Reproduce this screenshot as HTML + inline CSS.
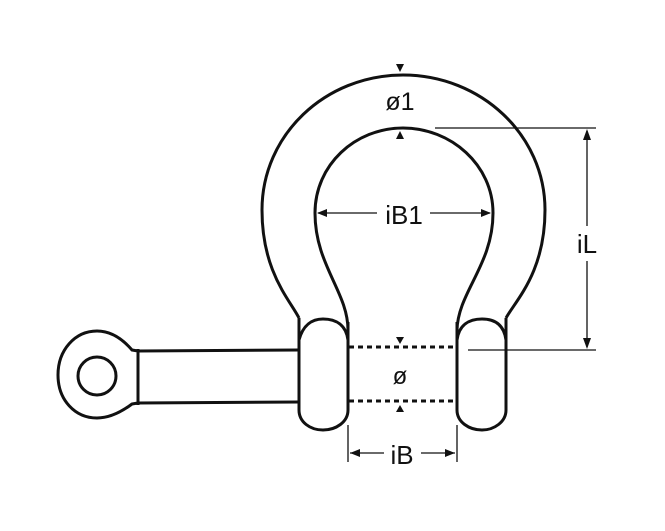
<!DOCTYPE html>
<html><head><meta charset="utf-8"><style>
html,body{margin:0;padding:0;background:#fff;}
svg{display:block;}
text{font-family:"Liberation Sans","DejaVu Sans",sans-serif;fill:#111;}
</style></head><body>
<svg width="665" height="531" viewBox="0 0 665 531" xmlns="http://www.w3.org/2000/svg">
<g fill="none" stroke="#111" stroke-width="3" stroke-linejoin="round">
<!-- outer bow -->
<path d="M299 318 C290 300 262 272 262 210 C262 135 325 75 403 75 C481 75 545 135 545 210 C545 272 516 300 506 318"/>
<!-- inner bow -->
<path d="M348 330 C348 292 315 265 315 213 C315 165 355 128 403 128 C451 128 493 165 493 213 C493 265 458 292 457 330"/>
<!-- left collar -->
<path d="M299 340 C303 325 312 319 323 319 C336 319 346 325 348 340 L348 410 C348 422 336 430 323 430 C310 430 299 422 299 410 Z" fill="#fff"/>
<path d="M299 318 L299 340 M348 322 L348 340"/>
<!-- right collar -->
<path d="M457 340 C459 325 469 319 482 319 C495 319 504 325 506 340 L506 410 C506 422 494 430 482 430 C469 430 457 422 457 410 Z" fill="#fff"/>
<path d="M506 318 L506 340 M457 322 L457 340"/>
<!-- pin -->
<path d="M299 350 L138 351 M299 402 L138 403"/>
<!-- eye -->
<path d="M138 349 L138 405 M132 350 C120 336 108 331 97 331 C75 331 58 350 58 375 C58 400 75 418 97 418 C108 418 120 413 132 404 L138 403 L138 351 Z"/>
<circle cx="97" cy="376" r="19"/>
</g>
<g stroke="#111" stroke-width="3" stroke-dasharray="5,4">
<line x1="349" y1="347" x2="456" y2="347"/>
<line x1="349" y1="401" x2="456" y2="401"/>
</g>
<g stroke="#111" stroke-width="1.3" fill="none">
<line x1="348" y1="425" x2="348" y2="462"/>
<line x1="457" y1="425" x2="457" y2="462"/>
<line x1="350" y1="453" x2="384" y2="453"/>
<line x1="421" y1="453" x2="455" y2="453"/>
<line x1="318" y1="213" x2="377" y2="213"/>
<line x1="430" y1="213" x2="490" y2="213"/>
<line x1="435" y1="128" x2="596" y2="128"/>
<line x1="468" y1="350" x2="596" y2="350"/>
<line x1="587" y1="131" x2="587" y2="226"/>
<line x1="587" y1="261" x2="587" y2="347"/>
</g>
<g fill="#111">
<polygon points="350,453 360,449 360,457"/>
<polygon points="455,453 445,449 445,457"/>
<polygon points="317,213 327,209 327,217"/>
<polygon points="491,213 481,209 481,217"/>
<polygon points="587,129 583,140 591,140"/>
<polygon points="587,349 583,338 591,338"/>
<polygon points="396,64 404,64 400,72"/>
<polygon points="396,139 404,139 400,131"/>
<polygon points="396,337 404,337 400,344"/>
<polygon points="396,412 404,412 400,405"/>
</g>
<text x="400" y="110" font-size="25" text-anchor="middle">ø1</text>
<text x="404" y="224" font-size="26" text-anchor="middle">iB1</text>
<text x="587" y="253" font-size="26" text-anchor="middle">iL</text>
<text x="400" y="384" font-size="24" text-anchor="middle">ø</text>
<text x="402" y="464" font-size="26" text-anchor="middle">iB</text>
</g>
</svg>
</body></html>
